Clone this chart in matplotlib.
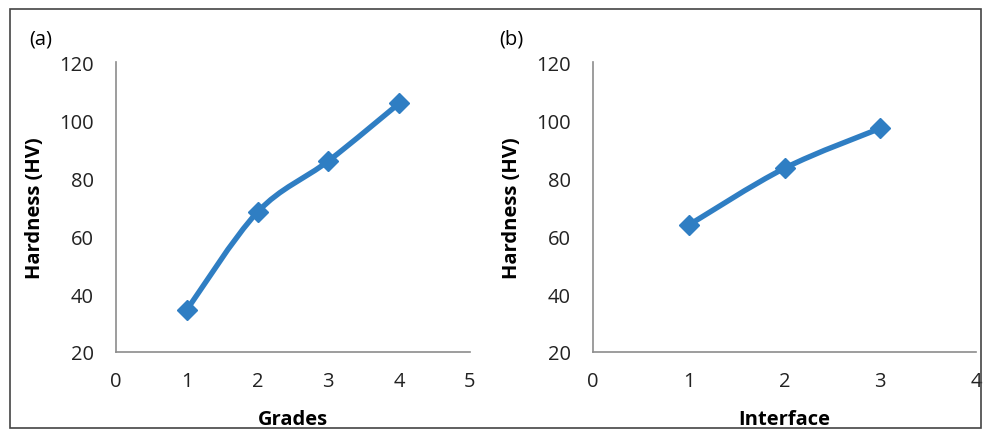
import matplotlib.pyplot as plt
from matplotlib.path import Path
from matplotlib.patches import PathPatch, Rectangle

# Data
grades = [1, 2, 3, 4]
hardness_grades = [34.5, 68.3, 85.9, 105.8]
interface = [1, 2, 3]
hardness_interface = [63.8, 83.4, 97.2]

blue = '#2F7EC3'
plt.rcParams['font.family'] = ['Open Sans', 'DejaVu Sans']


def smooth_path(xs, ys, t=1 / 6):
    # Excel style smoothed line: cubic bezier through the points
    verts = [(xs[0], ys[0])]
    codes = [Path.MOVETO]
    n = len(xs)
    for i in range(n - 1):
        x0, y0 = (xs[i - 1], ys[i - 1]) if i > 0 else (xs[i], ys[i])
        x1, y1 = xs[i], ys[i]
        x2, y2 = xs[i + 1], ys[i + 1]
        x3, y3 = (xs[i + 2], ys[i + 2]) if i + 2 < n else (x2, y2)
        c1 = (x1 + (x2 - x0) * t, y1 + (y2 - y0) * t)
        c2 = (x2 - (x3 - x1) * t, y2 - (y3 - y1) * t)
        verts += [c1, c2, (x2, y2)]
        codes += [Path.CURVE4] * 3
    return Path(verts, codes)


def panel(ax, xs, ys, xmax, xlabel, tag):
    ax.add_patch(PathPatch(smooth_path(xs, ys), fill=False, edgecolor=blue,
                           lw=3.9, capstyle='round', joinstyle='round'))
    ax.plot(xs, ys, ls='none', marker='D', ms=10.5, color=blue)
    ax.set_xlim(0, xmax)
    ax.set_ylim(20, 120)
    ax.set_xticks(range(0, xmax + 1))
    ax.set_yticks(range(20, 121, 20))
    for s in ['top', 'right']:
        ax.spines[s].set_visible(False)
    for s in ['left', 'bottom']:
        ax.spines[s].set_color('#8c8c8c')
        ax.spines[s].set_linewidth(1.2)
    ax.tick_params(length=0, labelsize=14.5, colors='#222222')
    ax.tick_params(axis='y', pad=16)
    ax.tick_params(axis='x', pad=14)
    ax.set_xlabel(xlabel, fontsize=14.5, fontweight='bold', labelpad=13)
    ax.set_ylabel('Hardness (HV)', fontsize=14.5, fontweight='bold', labelpad=10)
    ax.text(-0.245, 1.065, tag, transform=ax.transAxes, fontsize=14.5)


fig = plt.figure(figsize=(9.86, 4.39), dpi=100)
fig.patches.append(Rectangle((0.010, 0.022), 0.985, 0.955, transform=fig.transFigure,
                             fill=False, edgecolor='#444444', lw=1.2))

ax1 = fig.add_axes([0.1176, 0.196, 0.359, 0.66])
panel(ax1, grades, hardness_grades, 5, 'Grades', '(a)')

ax2 = fig.add_axes([0.6014, 0.196, 0.3885, 0.66])
panel(ax2, interface, hardness_interface, 4, 'Interface', '(b)')

fig.savefig('out.png', dpi=100)
